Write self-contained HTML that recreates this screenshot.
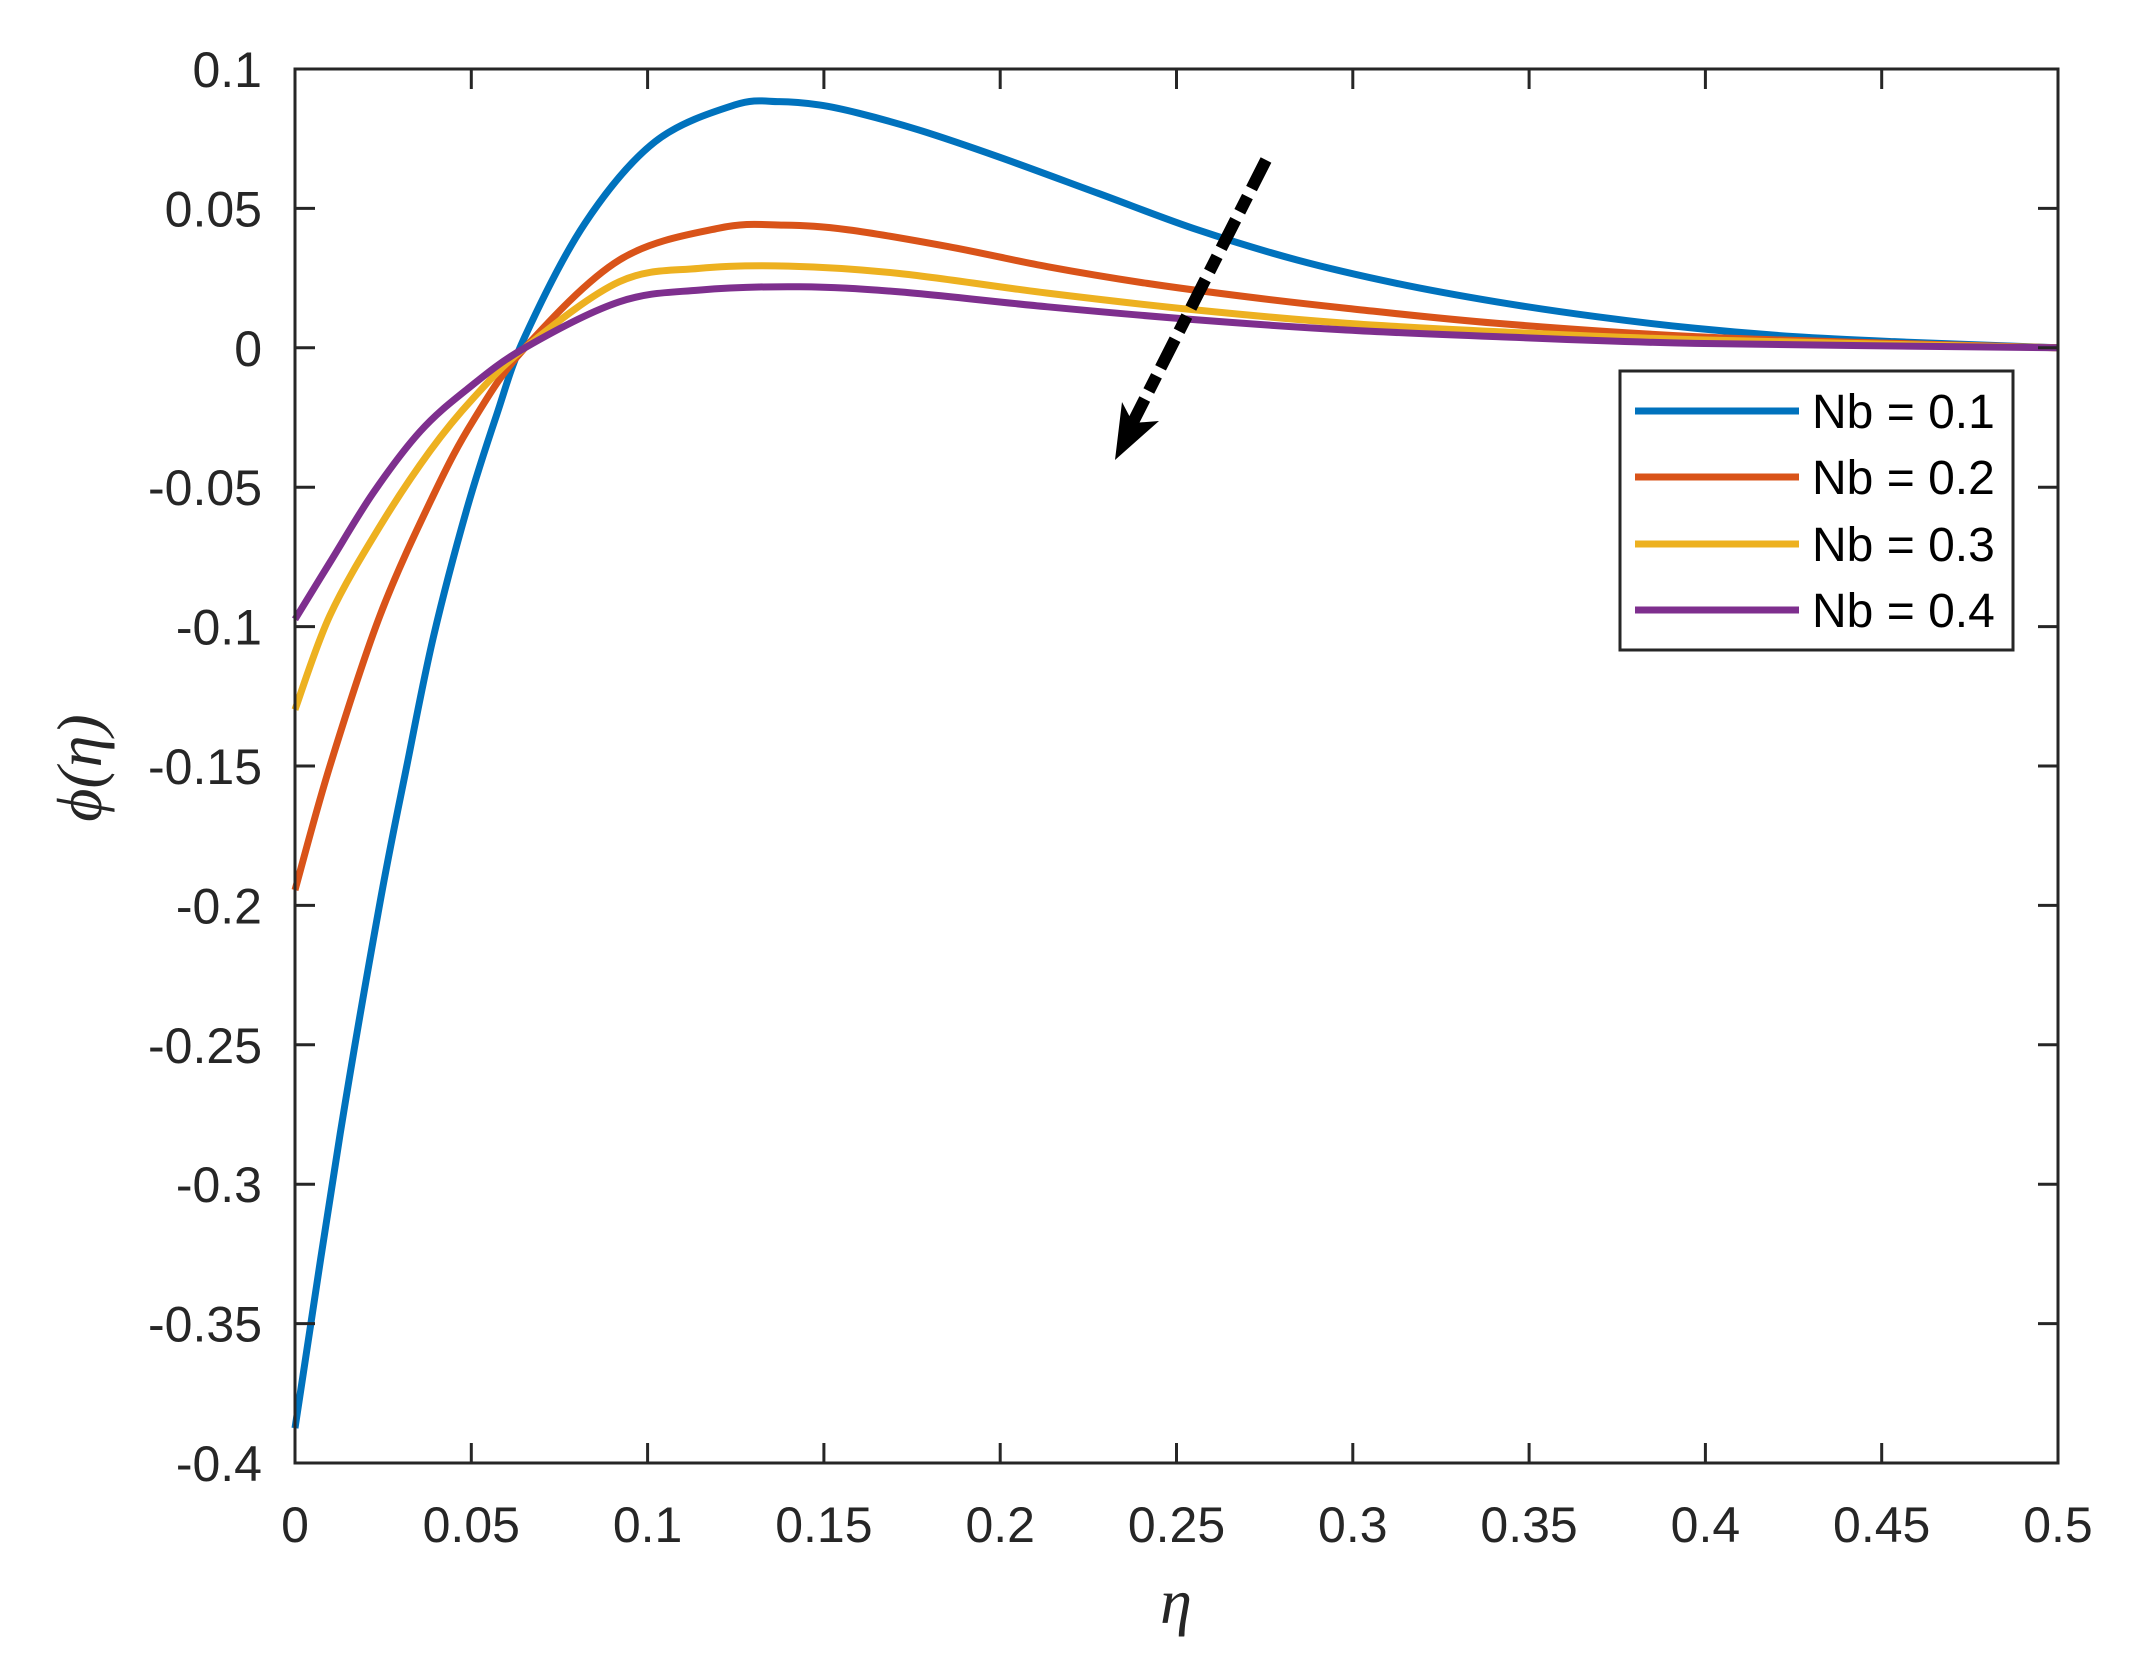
<!DOCTYPE html>
<html><head><meta charset="utf-8"><style>
html,body{margin:0;padding:0;background:#fff;}
svg{display:block;}
text{font-family:"Liberation Sans",sans-serif;fill:#262626;}
</style></head><body>
<svg id="s" width="2136" height="1668" xmlns="http://www.w3.org/2000/svg">
<rect width="2136" height="1668" fill="#fff"/>
<g id="curves" fill="none" stroke-width="7" stroke-linejoin="round" stroke-linecap="butt"></g>
<g id="axes" stroke="#262626" stroke-width="3" fill="none"></g>
<g id="labels" font-size="50"></g>
<line x1="1266" y1="160" x2="1128" y2="432" stroke="#000" stroke-width="12" stroke-dasharray="32 9 17 9"/>
<polygon points="1115,460 1122,402 1133,423 1159,421" fill="#000"/>
<rect x="1620" y="371" width="393" height="279" fill="#fff" stroke="#262626" stroke-width="3"/>
<line x1="1635" y1="411" x2="1799" y2="411" stroke="#0072BD" stroke-width="7"/>
<line x1="1635" y1="477" x2="1799" y2="477" stroke="#D95319" stroke-width="7"/>
<line x1="1635" y1="544" x2="1799" y2="544" stroke="#EDB120" stroke-width="7"/>
<line x1="1635" y1="610" x2="1799" y2="610" stroke="#7E2F8E" stroke-width="7"/>
<g font-size="48">
<text x="1812" y="428" style="fill:#000">Nb = 0.1</text>
<text x="1812" y="494" style="fill:#000">Nb = 0.2</text>
<text x="1812" y="561" style="fill:#000">Nb = 0.3</text>
<text x="1812" y="627" style="fill:#000">Nb = 0.4</text>
</g>
<text x="1176" y="1623" font-size="64" text-anchor="middle" style="font-family:'Liberation Serif',serif;font-style:italic">η</text>
<text transform="translate(101,768) rotate(-90)" font-size="64" text-anchor="middle" style="font-family:'Liberation Serif',serif;font-style:italic">ϕ(η)</text>
</svg>
<script>
var L=295,R=2058,T=69,B=1463;
function X(e){return L+e/0.5*(R-L);}
function Y(p){return T+(0.1-p)/0.5*(B-T);}
var data={
"#0072BD":[[0,-0.3875],[0.0128,-0.282],[0.0241,-0.199],[0.0317,-0.150],[0.0392,-0.104],[0.0487,-0.058],[0.0572,-0.024],[0.0652,0.004],[0.0823,0.0448],[0.1021,0.0739],[0.1247,0.0871],[0.1374,0.0883],[0.1487,0.0871],[0.16,0.0841],[0.177,0.0781],[0.1995,0.0685],[0.2278,0.0554],[0.256,0.0423],[0.2842,0.0315],[0.3125,0.0231],[0.3407,0.0165],[0.3689,0.0112],[0.3971,0.0070],[0.4253,0.0040],[0.4536,0.0022],[0.5,0]],
"#D95319":[[0,-0.1945],[0.0099,-0.150],[0.0241,-0.096],[0.0392,-0.053],[0.0506,-0.026],[0.0652,0],[0.092,0.0315],[0.1202,0.0429],[0.1386,0.044],[0.157,0.0423],[0.1852,0.0363],[0.2134,0.0291],[0.2417,0.0231],[0.2699,0.0183],[0.2981,0.0142],[0.3407,0.0088],[0.3971,0.0040],[0.4536,0.0016],[0.5,0]],
"#EDB120":[[0,-0.1298],[0.0099,-0.096],[0.0241,-0.064],[0.0383,-0.037],[0.0506,-0.018],[0.0652,0],[0.092,0.0237],[0.1146,0.0285],[0.14,0.0293],[0.1711,0.0267],[0.2134,0.0196],[0.256,0.0135],[0.2981,0.0088],[0.3407,0.0058],[0.3971,0.0029],[0.5,0]],
"#7E2F8E":[[0,-0.0974],[0.0099,-0.077],[0.0222,-0.052],[0.0355,-0.030],[0.0487,-0.015],[0.0652,0],[0.092,0.0165],[0.1146,0.0207],[0.1431,0.0219],[0.1711,0.0201],[0.2134,0.0147],[0.256,0.0100],[0.2981,0.0064],[0.3407,0.0040],[0.3971,0.0016],[0.5,0]]
};
var NS="http://www.w3.org/2000/svg";
var cg=document.getElementById("curves");
for(var c in data){
 var p=data[c].map(function(d){return [X(d[0]),Y(d[1])];});
 var s="M"+p[0][0]+","+p[0][1];
 for(var i=0;i<p.length-1;i++){
  var p0=p[i-1]||p[i],p1=p[i],p2=p[i+1],p3=p[i+2]||p[i+1];
  var c1x=p1[0]+(p2[0]-p0[0])/6,c1y=p1[1]+(p2[1]-p0[1])/6;
  var c2x=p2[0]-(p3[0]-p1[0])/6,c2y=p2[1]-(p3[1]-p1[1])/6;
  s+=" C"+c1x+","+c1y+" "+c2x+","+c2y+" "+p2[0]+","+p2[1];
 }
 var e=document.createElementNS(NS,"path");e.setAttribute("d",s);e.setAttribute("stroke",c);cg.appendChild(e);
}
var ag=document.getElementById("axes"),lg=document.getElementById("labels");
function ln(a,b,c,d){var e=document.createElementNS(NS,"line");e.setAttribute("x1",a);e.setAttribute("y1",b);e.setAttribute("x2",c);e.setAttribute("y2",d);ag.appendChild(e);}
function tx(x,y,t,anc){var e=document.createElementNS(NS,"text");e.setAttribute("x",x);e.setAttribute("y",y);e.setAttribute("text-anchor",anc);e.textContent=t;lg.appendChild(e);}
var r=document.createElementNS(NS,"rect");r.setAttribute("x",L);r.setAttribute("y",T);r.setAttribute("width",R-L);r.setAttribute("height",B-T);ag.appendChild(r);
var xl=["0","0.05","0.1","0.15","0.2","0.25","0.3","0.35","0.4","0.45","0.5"];
for(var i=0;i<=10;i++){var x=X(i*0.05);ln(x,B,x,B-20);ln(x,T,x,T+20);tx(x,1542,xl[i],"middle");}
var yl=["0.1","0.05","0","-0.05","-0.1","-0.15","-0.2","-0.25","-0.3","-0.35","-0.4"];
for(var i=0;i<=10;i++){var y=Y(0.1-i*0.05);ln(L,y,L+20,y);ln(R,y,R-20,y);tx(262,y+18,yl[i],"end");}
</script>
</body></html>
